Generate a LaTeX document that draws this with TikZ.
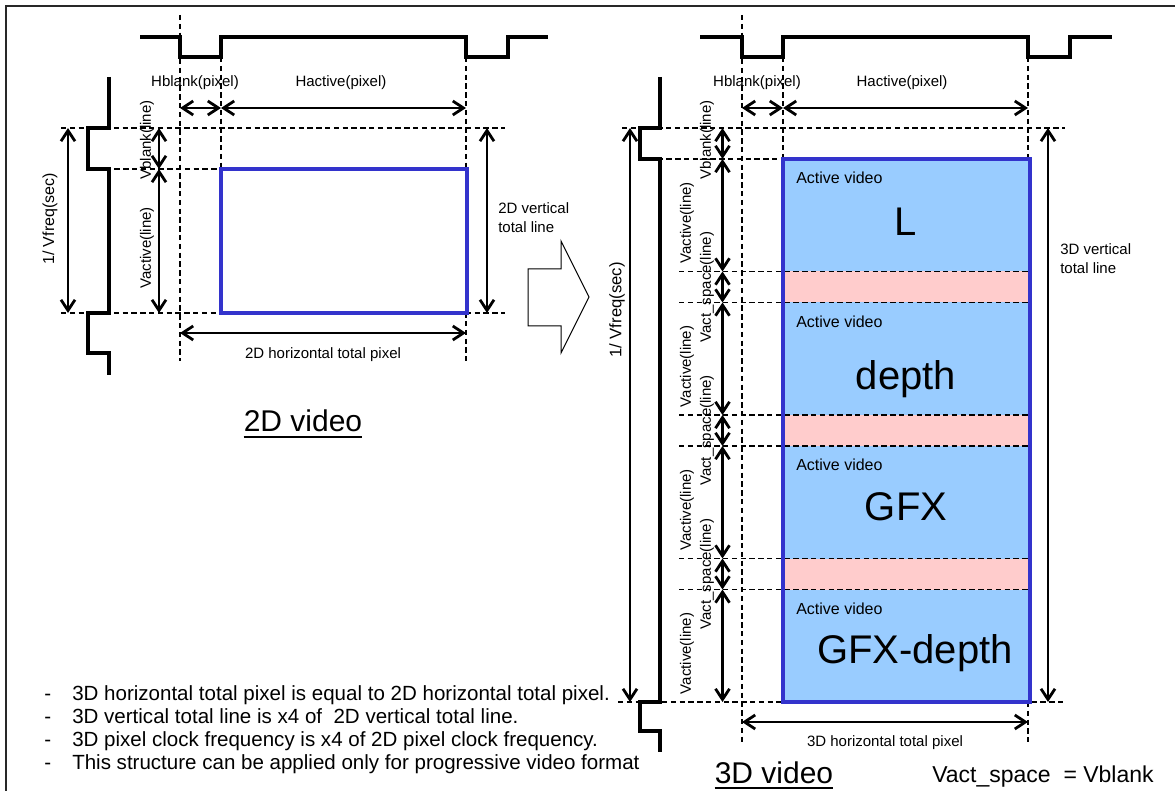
\documentclass[tikz,border=0pt]{standalone}
\usepackage{fontspec}
\setmainfont{Liberation Sans}
\usetikzlibrary{arrows.meta}
\definecolor{framedark}{RGB}{40,40,40}
\definecolor{activeblue}{RGB}{51,51,204}
\definecolor{activefill}{RGB}{153,204,255}
\definecolor{spacefill}{RGB}{255,204,204}
\tikzset{
  sync wave/.style={line width=2.4pt},
  guide line/.style={line width=1.4pt, dash pattern=on 4pt off 2.6pt},
  size arrow/.style={line width=2.1pt,
    {Straight Barb[length=8pt,width=10.5pt]}-{Straight Barb[length=8pt,width=10.5pt]}},
  size label/.style={inner sep=0pt, font=\fontsize{11.25}{14.25}\selectfont},
  side label/.style={size label, rotate=90},
  active frame/.style={draw=activeblue, line width=3pt},
  active label/.style={inner sep=0pt, anchor=west, font=\fontsize{12}{14}\selectfont},
  big label/.style={inner sep=0pt, font=\fontsize{30}{34}\selectfont},
  title label/.style={inner sep=0pt, anchor=base, font=\fontsize{22.5}{26}\selectfont},
  note line/.style={inner sep=0pt, anchor=base west, font=\fontsize{15.4}{18}\selectfont}
}

\begin{document}
\begin{tikzpicture}[x=0.75pt, y=-0.75pt]
  \useasboundingbox (0,0) rectangle (1175,791);
  \draw[framedark, line width=1.1pt] (6,791) -- (6,6) -- (1175,6);

  % 2D video
  \draw[guide line] (180,15) -- (180,361) (221,57) -- (221,169) (466,57) -- (466,361)
    (61,128) -- (505,128) (88,169) -- (221,169) (61,313) -- (505,313);
  \draw[active frame] (221,169) rectangle (467,313);
  \draw[sync wave] (140,37) -- (180,37) -- (180,57) -- (221,57) -- (221,37) -- (466,37)
    -- (466,57) -- (508,57) -- (508,37) -- (548,37);
  \draw[sync wave] (109,77) -- (109,128) -- (88,128) -- (88,169) -- (109,169) -- (109,313)
    -- (88,313) -- (88,353) -- (109,353) -- (109,375);

  \coordinate (hb2d) at (180,108);
  \coordinate (ha2d) at (221,108);
  \coordinate (he2d) at (466,108);
  \coordinate (vt2d) at (159,128);
  \coordinate (va2d) at (159,169);
  \coordinate (ve2d) at (159,313);
  \coordinate (ft2d) at (68,128);
  \coordinate (fb2d) at (68,313);
  \coordinate (tt2d) at (487,128);
  \coordinate (tb2d) at (487,313);
  \coordinate (wl2d) at (180,333);
  \coordinate (wr2d) at (466,333);
  \draw[size arrow] (hb2d) -- (ha2d);
  \draw[size arrow] (ha2d) -- (he2d);
  \draw[size arrow] (vt2d) -- (va2d);
  \draw[size arrow] (va2d) -- (ve2d);
  \draw[size arrow] (ft2d) -- (fb2d);
  \draw[size arrow] (tt2d) -- (tb2d);
  \draw[size arrow] (wl2d) -- (wr2d);

  \node[size label] (hblank2d) at (195,83) {Hblank(pixel)};
  \node[size label] (hactive2d) at (341,83) {Hactive(pixel)};
  \node[side label, font=\fontsize{12}{14}\selectfont] (vfreq2d) at (50,219) {1/ Vfreq(sec)};
  \node[side label] (vblank2d) at (147,140) {Vblank(line)};
  \node[side label] (vactive2d) at (147,248) {Vactive(line)};
  \node[size label, anchor=west, align=left] (vtotal2d) at (498,217.5) {2D vertical\\total line};
  \node[size label] (htotal2d) at (323,355) {2D horizontal total pixel};
  \node[title label] (title2d) at (303,432) {2D video};
  \draw[line width=1.5pt] ([yshift=-3.8pt]title2d.base west) -- ([yshift=-3.8pt]title2d.base east);

  \draw[line width=0.75pt] (528,269) -- (561,269) -- (561,241) -- (589,297) -- (561,353)
    -- (561,326) -- (528,326) -- cycle;

  % 3D video
  \fill[activefill] (783,159) rectangle (1030,702);
  \foreach \y in {271.5,415,558.5}
    \fill[spacefill] (783,\y) rectangle (1030,\y+31);
  \draw[guide line] (742,15) -- (742,742) (783,57) -- (783,159) (1028,57) -- (1028,159)
    (1028,702) -- (1028,742) (622,128) -- (1065,128) (640,159) -- (783,159) (618,702) -- (1065,702);
  \foreach \y in {271.5,302.5,415,446,558.5,589.5}
    \draw[guide line] (679,\y) -- (1028,\y);
  \draw[active frame] (783,159) rectangle (1030,702);
  \draw[sync wave] (700,37) -- (742,37) -- (742,57) -- (783,57) -- (783,37) -- (1028,37)
    -- (1028,57) -- (1070,57) -- (1070,37) -- (1112,37);
  \draw[sync wave] (660,77) -- (660,128) -- (640,128) -- (640,159) -- (660,159) -- (660,702)
    -- (640,702) -- (640,731) -- (660,731) -- (660,752);

  \foreach \name/\y in {s0/128,s1/159,s2/271.5,s3/302.5,s4/415,s5/446,s6/558.5,s7/589.5,s8/702}
    \coordinate (\name) at (722.5,\y);
  \foreach \a/\b in {s0/s1,s1/s2,s2/s3,s3/s4,s4/s5,s5/s6,s6/s7,s7/s8}
    \draw[size arrow] (\a) -- (\b);
  \coordinate (hb3d) at (742,108);
  \coordinate (ha3d) at (783,108);
  \coordinate (he3d) at (1028,108);
  \coordinate (ft3d) at (630,128);
  \coordinate (fb3d) at (630,702);
  \coordinate (tt3d) at (1048,128);
  \coordinate (tb3d) at (1048,702);
  \coordinate (wl3d) at (742,722);
  \coordinate (wr3d) at (1028,722);
  \draw[size arrow] (hb3d) -- (ha3d);
  \draw[size arrow] (ha3d) -- (he3d);
  \draw[size arrow] (ft3d) -- (fb3d);
  \draw[size arrow] (tt3d) -- (tb3d);
  \draw[size arrow] (wl3d) -- (wr3d);

  \node[size label] (hblank3d) at (757,83) {Hblank(pixel)};
  \node[size label] (hactive3d) at (902,83) {Hactive(pixel)};
  \node[side label, font=\fontsize{12.5}{14}\selectfont] (vfreq3d) at (617,310) {1/ Vfreq(sec)};
  \node[side label] (vblank3d) at (707,140) {Vblank(line)};
  \foreach \top [count=\i] in {159,302.5,446,589.5} {
    \node[side label] (vactive3d\i) at (687,\top+64) {Vactive(line)};
    \node[active label] (active\i) at (796,\top+19) {Active video};
  }
  \foreach \top [count=\i] in {271.5,415,558.5}
    \node[side label] (vspace\i) at (707,\top+15.5) {Vact\_space(line)};
  \node[big label] (leftview) at (906,222) {L};
  \node[big label] (depthview) at (906,379) {depth};
  \node[big label] (gfxview) at (906,507) {GFX};
  \node[big label] (gfxdepthview) at (915,653) {GFX-depth};
  \node[size label, anchor=west, align=left] (vtotal3d) at (1060,258.5) {3D vertical\\total line};
  \node[size label] (htotal3d) at (885,743) {3D horizontal total pixel};
  \node[title label] (title3d) at (774,783) {3D video};
  \draw[line width=1.5pt] ([yshift=-3.8pt]title3d.base west) -- ([yshift=-3.8pt]title3d.base east);
  \node[anchor=base west, inner sep=0pt, font=\fontsize{17.25}{20}\selectfont] (spacenote) at (932,782)
    {Vact\_space\ \ = Vblank};

  \foreach \txt [count=\i] in {{3D horizontal total pixel is equal to 2D horizontal total pixel.},
      {3D vertical total line is x4 of\ \ 2D vertical total line.},
      {3D pixel clock frequency is x4 of 2D pixel clock frequency.},
      {This structure can be applied only for progressive video format}}
    \node[note line] (note\i) at (44,{700+23.3*(\i-1)}) {\makebox[21pt][l]{-}\txt};
\end{tikzpicture}
\end{document}
